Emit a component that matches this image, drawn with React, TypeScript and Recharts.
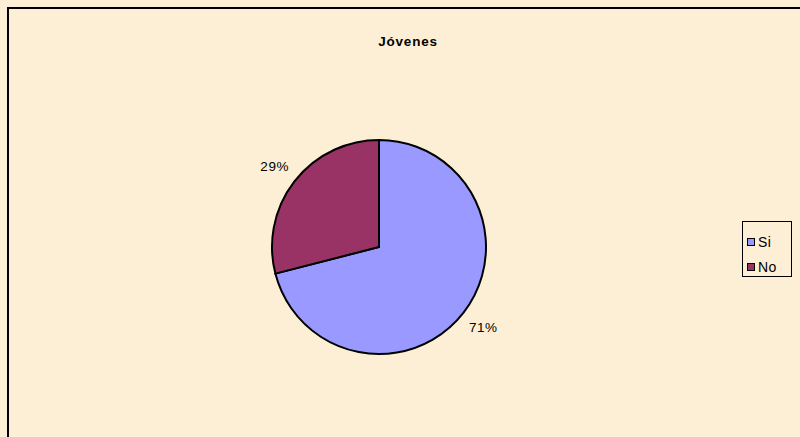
import React from "react";
import { PieChart, Pie, Cell, Legend } from "recharts";

const categories = ["Si", "No"];
const values = [71, 29];
const colors = ["#9999FF", "#993366"];
const title = "Jóvenes";

const data = categories.map((name, i) => ({ name, value: values[i] }));
const total = values.reduce((a, b) => a + b, 0);

const RAD = Math.PI / 180;

const renderLabel = (props: any) => {
  const { cx, cy, midAngle, outerRadius, value } = props;
  const r = outerRadius + 25;
  const x = cx + r * Math.cos(-midAngle * RAD);
  const y = cy + r * Math.sin(-midAngle * RAD);
  return (
    <text
      x={x}
      y={y}
      textAnchor="middle"
      dominantBaseline="central"
      fontFamily="Liberation Sans, Arial, sans-serif"
      fontSize={13.5}
      letterSpacing={0.6}
      fill="#000"
    >
      {`${Math.round((value / total) * 100)}%`}
    </text>
  );
};

const LegendContent = () => (
  <div
    style={{
      width: 50,
      height: 56,
      border: "1px solid #000",
      boxSizing: "border-box",
      fontFamily: "Liberation Sans, Arial, sans-serif",
      fontSize: 14,
      letterSpacing: 0.4,
      paddingTop: 7,
      paddingLeft: 4,
    }}
  >
    {categories.map((c, i) => (
      <div key={c} style={{ display: "flex", alignItems: "center", height: 25 }}>
        <span
          style={{
            display: "inline-block",
            width: 6,
            height: 6,
            background: colors[i],
            border: "1px solid #000",
            marginRight: 3,
          }}
        />
        <span>{c}</span>
      </div>
    ))}
  </div>
);

export default function App() {
  return (
    <div
      style={{
        position: "fixed",
        left: 0,
        top: 0,
        width: 800,
        height: 437,
        background: "#FDEFD6",
        overflow: "hidden",
      }}
    >
      <div
        style={{
          position: "absolute",
          left: 7,
          top: 7,
          width: 820,
          height: 460,
          borderTop: "2px solid #000",
          borderLeft: "2px solid #000",
        }}
      />
      <div
        style={{
          position: "absolute",
          left: 0,
          top: 34,
          width: 816,
          textAlign: "center",
          fontFamily: "Liberation Sans, Arial, sans-serif",
          fontWeight: "bold",
          fontSize: 13.5,
          letterSpacing: 0.8,
        }}
      >
        {title}
      </div>
      <div style={{ position: "absolute", left: 0, top: 0 }}>
        <PieChart width={800} height={437}>
          <Pie
            data={data}
            dataKey="value"
            nameKey="name"
            cx={374}
            cy={242}
            outerRadius={107}
            startAngle={90}
            endAngle={-270}
            stroke="#000"
            strokeWidth={2}
            label={renderLabel}
            labelLine={false}
            isAnimationActive={false}
          >
            {data.map((d, i) => (
              <Cell key={d.name} fill={colors[i]} />
            ))}
          </Pie>
          <Legend
            content={<LegendContent />}
            wrapperStyle={{ position: "absolute", left: 742, top: 221, width: 50, height: 56 }}
          />
        </PieChart>
      </div>
    </div>
  );
}
